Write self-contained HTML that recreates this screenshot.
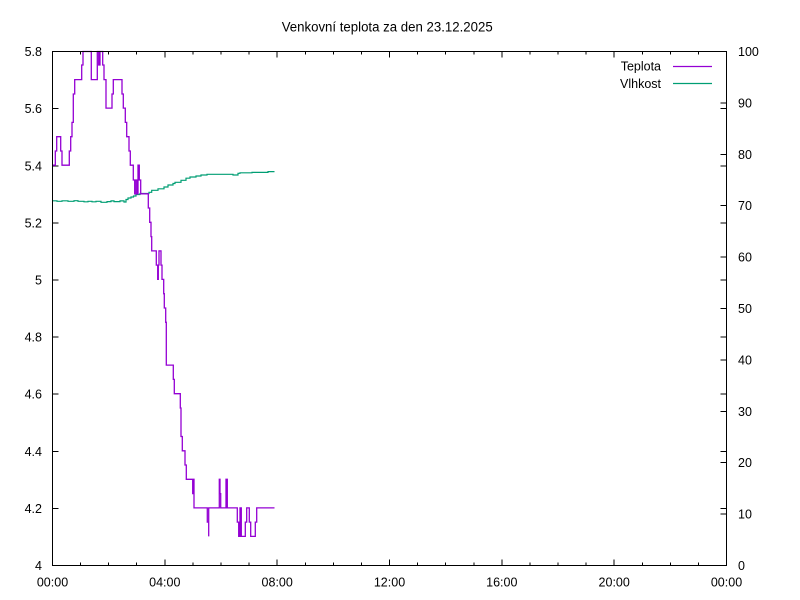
<!DOCTYPE html>
<html>
<head>
<meta charset="utf-8">
<style>
html,body{margin:0;padding:0;background:#fff;}
svg{display:block;}
text{font-family:"Liberation Sans",Arial,sans-serif;fill:#000;}
</style>
</head>
<body>
<svg width="800" height="600" viewBox="0 0 800 600" xmlns="http://www.w3.org/2000/svg">
<rect x="0" y="0" width="800" height="600" fill="#fff"/>

<!-- title -->
<text x="281.7" y="31.5" font-size="13.5" textLength="211" lengthAdjust="spacingAndGlyphs">Venkovní teplota za den 23.12.2025</text>

<!-- ticks -->
<g stroke="#000" stroke-width="1" fill="none" shape-rendering="crispEdges">
  <!-- left y ticks (and mirrored on right) -->
  <path d="M52.5 565.5 h6 M52.5 508.4 h6 M52.5 451.3 h6 M52.5 394.2 h6 M52.5 337.1 h6 M52.5 280 h6 M52.5 222.9 h6 M52.5 165.8 h6 M52.5 108.7 h6 M52.5 51.5 h6"/>
  <path d="M726.5 565.5 h-6 M726.5 508.4 h-6 M726.5 451.3 h-6 M726.5 394.2 h-6 M726.5 337.1 h-6 M726.5 280 h-6 M726.5 222.9 h-6 M726.5 165.8 h-6 M726.5 108.7 h-6 M726.5 51.5 h-6"/>
  <!-- y2 ticks on right -->
  <path d="M726.5 514.1 h-6 M726.5 462.7 h-6 M726.5 411.3 h-6 M726.5 359.9 h-6 M726.5 308.5 h-6 M726.5 257.1 h-6 M726.5 205.7 h-6 M726.5 154.3 h-6 M726.5 102.9 h-6"/>
  <!-- x major ticks bottom/top -->
  <path d="M164.8 565.5 v-6 M277.2 565.5 v-6 M389.5 565.5 v-6 M501.8 565.5 v-6 M614.2 565.5 v-6"/>
  <path d="M164.8 51.5 v6 M277.2 51.5 v6 M389.5 51.5 v6 M501.8 51.5 v6 M614.2 51.5 v6"/>
  <!-- x minor ticks bottom -->
  <path d="M80.6 565.5 v-3 M108.6 565.5 v-3 M136.7 565.5 v-3 M192.9 565.5 v-3 M221 565.5 v-3 M249.1 565.5 v-3 M305.3 565.5 v-3 M333.4 565.5 v-3 M361.4 565.5 v-3 M417.6 565.5 v-3 M445.7 565.5 v-3 M473.8 565.5 v-3 M529.9 565.5 v-3 M558 565.5 v-3 M586.1 565.5 v-3 M642.3 565.5 v-3 M670.4 565.5 v-3 M698.4 565.5 v-3"/>
  <path d="M80.6 51.5 v3 M108.6 51.5 v3 M136.7 51.5 v3 M192.9 51.5 v3 M221 51.5 v3 M249.1 51.5 v3 M305.3 51.5 v3 M333.4 51.5 v3 M361.4 51.5 v3 M417.6 51.5 v3 M445.7 51.5 v3 M473.8 51.5 v3 M529.9 51.5 v3 M558 51.5 v3 M586.1 51.5 v3 M642.3 51.5 v3 M670.4 51.5 v3 M698.4 51.5 v3"/>
</g>

<!-- left labels -->
<g font-size="12.5" text-anchor="end">
  <text x="42" y="570">4</text>
  <text x="42" y="512.9">4.2</text>
  <text x="42" y="455.8">4.4</text>
  <text x="42" y="398.7">4.6</text>
  <text x="42" y="341.6">4.8</text>
  <text x="42" y="284.5">5</text>
  <text x="42" y="227.4">5.2</text>
  <text x="42" y="170.3">5.4</text>
  <text x="42" y="113.2">5.6</text>
  <text x="42" y="56">5.8</text>
</g>
<!-- right labels -->
<g font-size="12.5" text-anchor="start">
  <text x="738" y="570">0</text>
  <text x="738" y="518.6">10</text>
  <text x="738" y="467.2">20</text>
  <text x="738" y="415.8">30</text>
  <text x="738" y="364.4">40</text>
  <text x="738" y="313">50</text>
  <text x="738" y="261.6">60</text>
  <text x="738" y="210.2">70</text>
  <text x="738" y="158.8">80</text>
  <text x="738" y="107.4">90</text>
  <text x="738" y="56">100</text>
</g>
<!-- x labels -->
<g font-size="12.5" text-anchor="middle">
  <text x="52.5" y="586.5">00:00</text>
  <text x="164.8" y="586.5">04:00</text>
  <text x="277.2" y="586.5">08:00</text>
  <text x="389.5" y="586.5">12:00</text>
  <text x="501.8" y="586.5">16:00</text>
  <text x="614.2" y="586.5">20:00</text>
  <text x="726.5" y="586.5">00:00</text>
</g>

<!-- legend -->
<g font-size="12.5" text-anchor="end">
  <text x="661" y="70.7">Teplota</text>
  <text x="661" y="88">Vlhkost</text>
</g>
<path d="M673 66.5 H712" stroke="#9400d3" stroke-width="1.2" fill="none"/>
<path d="M673 83.5 H712" stroke="#009e73" stroke-width="1.2" fill="none"/>

<!-- humidity -->
<path fill="none" stroke="#009e73" stroke-width="1.2" d="M52.5 200.8 H57 V201.3 H62 V200.8 H68 V201.3 H74 V200.7 H78 V201.3 H84 V201.8 H88 V201.3 H92 V201.8 H96 V201.3 H101 V202.3 H107 V201.6 H111 V200.9 H114 V201.6 H120 V200.9 H124 V202 H126 V199.5 H128 V198 H131 V197 H133.5 V196 H136 V194.5 H140 V193.5 H149 V192.3 H151.7 V190.3 H158 V188.8 H164 V187 H168 V185 H173 V183.5 H175 V182.3 H181 V180.3 H186 V178.2 H190 V177 H196 V176 H201 V175 H207 V174.3 H233 V175 H238 V173.3 H240 V172.8 H252 V172.4 H268 V171.6 H274.5"/>

<!-- temperature -->
<path fill="none" stroke="#9400d3" stroke-width="1.3" d="M52.5 165.2 H55.3 V151 H56.7 V136.7 H60.7 V151 H62 V165.2 H69.3 V151 H70.7 V136.7 H72 V122.4 H73.3 V94 H74.7 V79.6 H81.7 V65 H83 V51.5 H91.3 V79.6 H97.3 V51.5 H98.7 V65 H100 V51.5 H102.7 V65 H104 V79.6 H106 V108.1 H112 V94 H113.3 V79.6 H122 V94 H123.3 V108.1 H125.3 V122.4 H126.7 V136.7 H129 V151 H130.3 V165.2 H133.3 V180 H134.7 V193.8 H135.3 V180 H136.7 V193.8 H138 V165.2 H139.3 V180 H140.7 V193.8 H148.3 V208 H149.7 V222.3 H151 V236.6 H151.7 V250.9 H156.3 V265.1 H157.7 V279.4 H158.3 V265 H159 V250.9 H161 V265.1 H162 V279.4 H163 V279.4 H163.7 V293.7 H164.3 V308 H165.7 V322.3 H166.3 V365.1 H173.3 V379.4 H174.3 V393.7 H180.3 V408 H181 V436.5 H182.3 V450.8 H185 V465 H186.3 V479.3 H192.7 V493.6 H193.3 V479.3 H194 V507.9 H207.3 V522.1 H208.7 V536.4 V507.9 H219.3 V479.3 H220 V493.6 H220.7 V507.9 H226 V479.3 H227.3 V507.9 H237.3 V522.1 H238.7 V536.4 H240 V507.9 H241.3 V536.4 H245.3 V522.1 H246.7 V507.9 H249.3 V522.1 H250.7 V536.4 H255.3 V522.1 H256.7 V507.9 H274.5"/>

<!-- border -->
<rect x="52.5" y="51.5" width="674" height="514" fill="none" stroke="#000" stroke-width="1" shape-rendering="crispEdges"/>
</svg>
</body>
</html>
